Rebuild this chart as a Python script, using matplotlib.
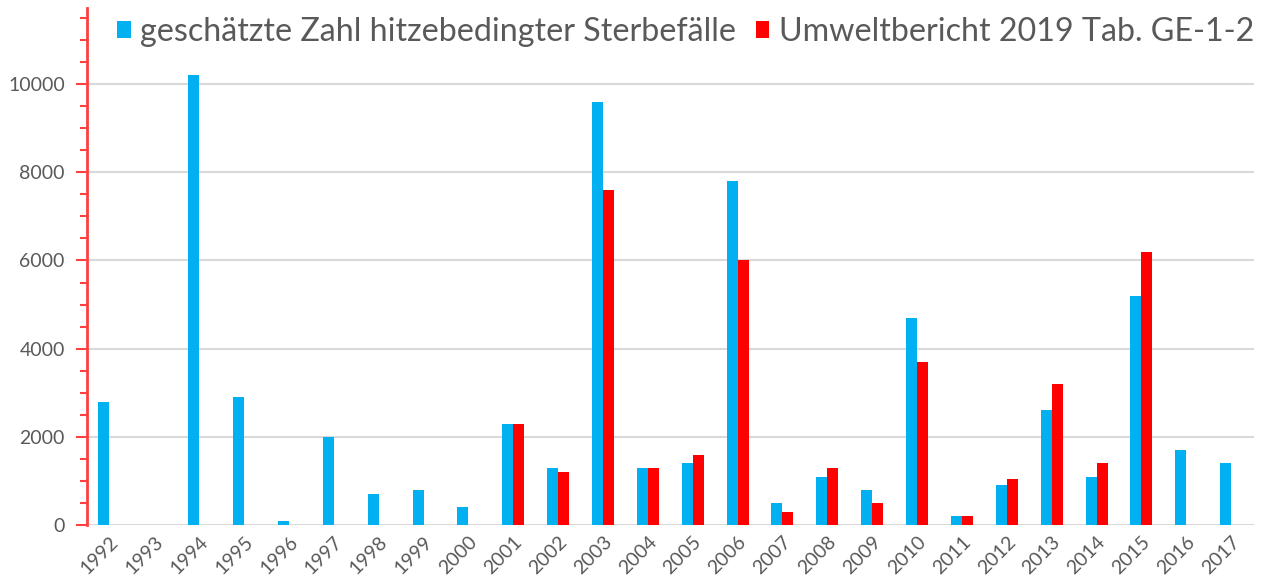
import matplotlib.pyplot as plt
import numpy as np
from matplotlib.ticker import MultipleLocator

plt.rcParams['font.family'] = ['Lato', 'DejaVu Sans']

# Daten
years = [str(y) for y in range(1992, 2018)]
geschaetzt = [2800, 0, 10200, 2900, 100, 2000, 700, 800, 400, 2300, 1300, 9600, 1300,
              1400, 7800, 500, 1100, 800, 4700, 200, 900, 2600, 1100, 5200, 1700, 1400]
umweltbericht = [0, 0, 0, 0, 0, 0, 0, 0, 0, 2300, 1200, 7600, 1300,
                 1600, 6000, 300, 1300, 500, 3700, 200, 1050, 3200, 1400, 6200, 0, 0]

label_blue = 'geschätzte Zahl hitzebedingter Sterbefälle'
label_red = 'Umweltbericht 2019 Tab. GE-1-2'

fig = plt.figure(figsize=(12.74, 5.88), dpi=100)
ax = fig.add_axes([0.0683, 0.107, 0.9157, 0.879])

x = np.arange(len(years))
w = 0.245
ax.bar(x - w / 2, geschaetzt, w, color='#00B0F0', label=label_blue, zorder=3)
ax.bar(x + w / 2, umweltbericht, w, color='#FF0000', label=label_red, zorder=3)

ax.set_xlim(-0.5, len(years) - 0.5)
ax.set_ylim(0, 11720)
ax.yaxis.set_major_locator(MultipleLocator(2000))
ax.yaxis.set_minor_locator(MultipleLocator(500))
ax.grid(axis='y', color='#d9d9d9', linewidth=1.5, zorder=0)

for s in ['top', 'right', 'bottom']:
    ax.spines[s].set_visible(False)
ax.spines['left'].set_color('#ff4040')
ax.spines['left'].set_linewidth(2)
ax.spines['left'].set_zorder(4)

ax.tick_params(axis='y', which='major', colors='#ff4040', length=8, width=1.5,
               labelcolor='#595959', labelsize=14, pad=8)
ax.tick_params(axis='y', which='minor', colors='#ff4040', length=5, width=1.5)
ax.set_xticks(x)
ax.set_xticklabels(years, rotation=45, ha='right', rotation_mode='anchor')
ax.tick_params(axis='x', length=0, labelcolor='#595959', labelsize=14, pad=6)

ax.legend(loc='upper left', bbox_to_anchor=(0.0257, 0.983), ncol=2, frameon=False,
          fontsize=23.2, labelcolor='#595959', handlelength=0.42, handleheight=0.42,
          handletextpad=0.3, columnspacing=0.6, borderaxespad=0, borderpad=0)

fig.savefig('out.png', dpi=100)
